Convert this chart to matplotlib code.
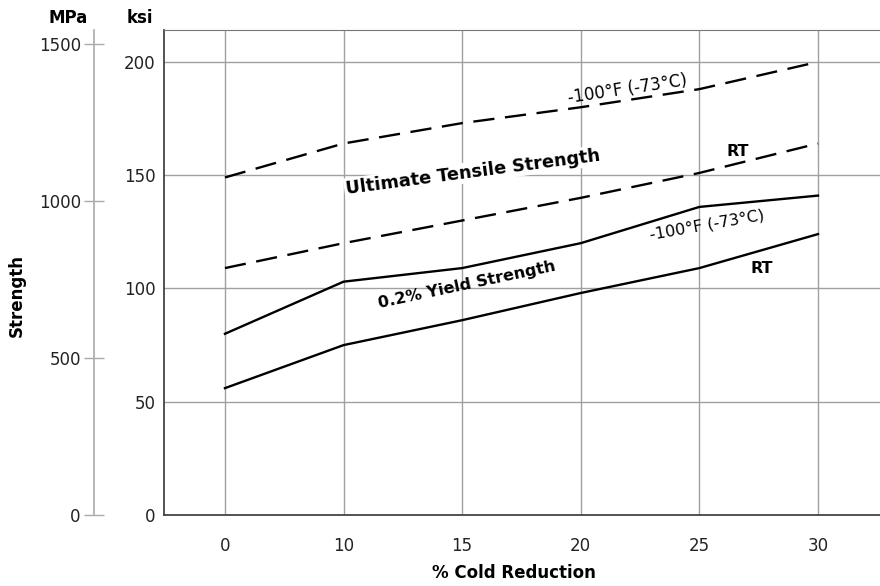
import matplotlib
matplotlib.use("Agg")
import matplotlib.pyplot as plt
import numpy as np

plt.rcParams['font.family'] = ['DejaVu Sans']

# Data
cold_reduction = ["0", "10", "15", "20", "25", "30"]
uts_minus100F = [149, 164, 173, 180, 188, 200]
uts_rt = [109, 120, 130, 140, 151, 164]
ys_minus100F = [80, 103, 109, 120, 136, 141]
ys_rt = [56, 75, 86, 98, 109, 124]
ksi_ticks = [0, 50, 100, 150, 200]
mpa_ticks = [0, 500, 1000, 1500]

W, H = 880, 586
fig = plt.figure(figsize=(W / 100, H / 100), dpi=100)

def fx(px):
    return px / W

def fy(py):
    return 1 - py / H

# main axes (ksi)
left, right, top, bottom = 164, 880, 30, 515
ax = fig.add_axes([fx(left), fy(bottom), fx(right - left), fy(top) - fy(bottom)])
x = np.arange(len(cold_reduction))
ax.set_xlim(-0.514, 5.523)
ax.set_ylim(0, 214.1)

grid_c = '#a0a0a0'
for xi in x:
    ax.axvline(xi, color=grid_c, lw=1.0, zorder=1)
for yv in ksi_ticks[1:]:
    ax.axhline(yv, color=grid_c, lw=1.0, zorder=1)

dash = (0, (9, 4.5))
ax.plot(x, uts_minus100F, color='black', lw=1.7, linestyle=dash, zorder=3)
ax.plot(x, uts_rt, color='black', lw=1.7, linestyle=dash, zorder=3)
ax.plot(x, ys_minus100F, color='black', lw=1.7, zorder=3)
ax.plot(x, ys_rt, color='black', lw=1.7, zorder=3)

ax.set_xticks(x)
ax.set_xticklabels(cold_reduction)
ax.set_yticks(ksi_ticks)
ax.set_yticklabels([str(v) for v in ksi_ticks])
ax.tick_params(axis='both', length=0, labelsize=12, colors='#222222')
ax.tick_params(axis='x', pad=16)
ax.tick_params(axis='y', pad=6)
ax.spines['right'].set_visible(False)
ax.spines['top'].set_color('#777777')
ax.spines['left'].set_color('#444444')
ax.spines['bottom'].set_color('#444444')
ax.spines['left'].set_linewidth(1.3)
ax.spines['bottom'].set_linewidth(1.3)

# annotations
ax.text(2.09, 151.4, "Ultimate Tensile Strength", rotation=7.5, ha='center', va='center',
        fontsize=12.8, fontweight='bold', zorder=4,
        bbox=dict(facecolor='white', edgecolor='none', pad=1))
ax.text(3.39, 188.0, "-100°F (-73°C)", rotation=8.5, ha='center', va='center', fontsize=12, zorder=4)
ax.text(4.32, 160.3, "RT", ha='center', va='center', fontsize=11.5, fontweight='bold', zorder=4)
ax.text(2.04, 101.5, "0.2% Yield Strength", rotation=12, ha='center', va='center',
        fontsize=11.5, fontweight='bold', zorder=4)
ax.text(4.06, 128, "-100°F (-73°C)", rotation=10, ha='center', va='center', fontsize=11.5, zorder=4)
ax.text(4.53, 109, "RT", ha='center', va='center', fontsize=11.5, fontweight='bold', zorder=4)

# MPa axis
mx = 94
ax2 = fig.add_axes([fx(mx), fy(bottom), 0.001, fy(top) - fy(bottom)])
ax2.set_ylim(0, 1544.6)
ax2.set_xticks([])
for s in ['right', 'top', 'bottom']:
    ax2.spines[s].set_visible(False)
ax2.spines['left'].set_color('#aaaaaa')
ax2.spines['left'].set_linewidth(1.2)
ax2.patch.set_visible(False)
ax2.set_yticks(mpa_ticks)
ax2.set_yticklabels([str(v) for v in mpa_ticks])
ax2.tick_params(axis='y', direction='inout', length=15, width=1, color='#aaaaaa',
                labelsize=12, labelcolor='#222222', pad=2)

# titles
fig.text(fx(68), fy(18), "MPa", ha='center', va='center', fontsize=12, fontweight='bold')
fig.text(fx(140), fy(18), "ksi", ha='center', va='center', fontsize=12, fontweight='bold')
fig.text(fx(17), fy(295), "Strength", ha='center', va='center', fontsize=12, fontweight='bold', rotation=90)
fig.text(fx(514), fy(573), "% Cold Reduction", ha='center', va='center', fontsize=12, fontweight='bold')

fig.savefig("out.png", dpi=100)
